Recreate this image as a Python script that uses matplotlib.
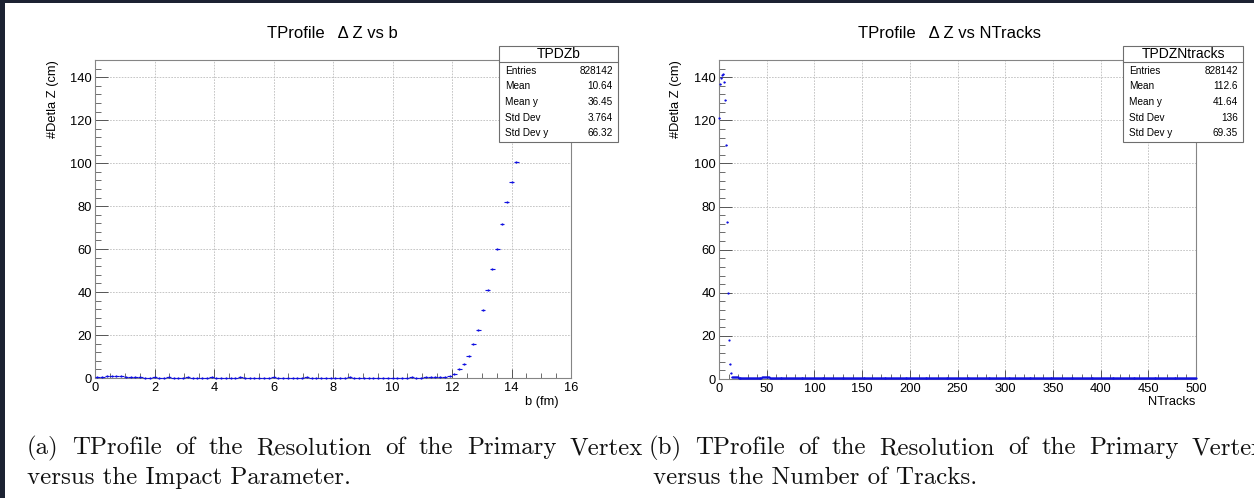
import numpy as np
import matplotlib
matplotlib.use("Agg")
import matplotlib.pyplot as plt
from matplotlib.patches import Rectangle
from matplotlib.lines import Line2D
from matplotlib.ticker import MultipleLocator

W, H, DPI = 1254, 498, 100

# ---------------------------------------------------------------- data
# TProfile  Delta Z vs b : 100 bins on [0, 16] fm (bins above 89 sit under the stats box)
b_edges = (0.0, 16.0)
b_nbins = 100
dz_vs_b = [
    0.3, 0.6, 0.9, 0.7, 1.0, 0.8, 0.5, 0.4, 0.3, 0.3,
    0.2, 0.2, 0.3, 0.2, 0.2, 0.3, 0.2, 0.2, 0.2, 0.3,
    0.2, 0.2, 0.2, 0.2, 0.3, 0.2, 0.2, 0.2, 0.2, 0.2,
    0.3, 0.2, 0.2, 0.2, 0.2, 0.2, 0.2, 0.3, 0.2, 0.2,
    0.2, 0.2, 0.2, 0.2, 0.3, 0.2, 0.2, 0.2, 0.2, 0.2,
    0.2, 0.2, 0.2, 0.3, 0.2, 0.2, 0.2, 0.2, 0.2, 0.2,
    0.2, 0.2, 0.2, 0.2, 0.2, 0.2, 0.3, 0.2, 0.2, 0.3,
    0.3, 0.3, 0.3,
    0.5, 1.1, 2.0, 4.3, 6.7, 10.4, 16.0, 22.2, 31.7, 40.8,
    50.6, 59.9, 71.6, 82.0, 91.0, 100.6, 110.2,
]

# TProfile  Delta Z vs NTracks : 500 bins on [0, 500]
nt_edges = (0.0, 500.0)
nt_nbins = 500
dz_vs_nt_head = [121.3, 136.9, 139.5, 140.9, 141.4, 138.0, 129.4,
                 108.4, 72.7, 40.0, 18.0, 7.1, 2.6, 1.0]
# flat tail read as runs of equal level (level, number of bins)
dz_vs_nt_tail_levels = [0.8, 0.5, 0.7, 0.4]
dz_vs_nt_tail_runs = [6, 25, 8, 447]

# stats boxes
stat_names = ["Entries", "Mean", "Mean y", "Std Dev", "Std Dev y"]
stats_b = ("TPDZb", ["828142", "10.64", "36.45", "3.764", "66.32"])
stats_nt = ("TPDZNtracks", ["828142", "112.6", "41.64", "136", "69.35"])

titles = ["TProfile   \u0394 Z vs b", "TProfile   \u0394 Z vs NTracks"]
xlabels = ["b (fm)", "NTracks"]
ylabel = "#Detla Z (cm)"
cap_a1 = ["(a)", "TProfile", "of", "the", "Resolution", "of", "the", "Primary", "Vertex"]
cap_a2 = "versus the Impact Parameter."
cap_b1 = ["(b)", "TProfile", "of", "the", "Resolution", "of", "the", "Primary", "Vertex"]
cap_b2 = "versus the Number of Tracks."

# ---------------------------------------------------------------- style
plt.rcParams["font.family"] = ["Liberation Sans", "DejaVu Sans"]
BLUE = "#1010e0"
GRID = "#bdbdbd"
FRAME = "#858585"


def px(x, y):
    """pixel position (from top-left) -> figure fraction"""
    return x / W, 1.0 - y / H


fig = plt.figure(figsize=(W / DPI, H / DPI), dpi=DPI)
fig.patch.set_facecolor("white")


def make_axes(x0, x1, y0, y1):
    l, t = px(x0, y0)
    r, b = px(x1, y1)
    return fig.add_axes([l, b, r - l, t - b])


def style_axes(ax, xmaj, xmin):
    ax.set_ylim(0, 148)
    ax.yaxis.set_major_locator(MultipleLocator(20))
    ax.yaxis.set_minor_locator(MultipleLocator(4))
    ax.xaxis.set_major_locator(MultipleLocator(xmaj))
    ax.xaxis.set_minor_locator(MultipleLocator(xmin))
    ax.grid(True, which="major", color=GRID, linestyle=(0, (2, 1.5)), linewidth=0.6)
    ax.set_axisbelow(True)
    for s in ax.spines.values():
        s.set_color(FRAME)
        s.set_linewidth(0.8)
    ax.tick_params(axis="y", which="major", direction="in", length=9.4, width=0.7,
                   color="#555555", pad=2.0, labelsize=9.3)
    ax.tick_params(axis="y", which="minor", direction="in", length=4.3, width=0.6,
                   color="#555555")
    ax.tick_params(axis="x", which="major", direction="in", length=6.5, width=0.7,
                   color="#555555", pad=3.0, labelsize=9.3)
    ax.tick_params(axis="x", which="minor", direction="in", length=3.3, width=0.6,
                   color="#555555")


def draw_profile(ax, values, edges, nbins):
    lo, hi = edges
    w = (hi - lo) / nbins
    y = np.asarray(values, dtype=float)
    x = lo + (np.arange(len(y)) + 0.5) * w
    ax.errorbar(x, y, xerr=w / 2, fmt="o", ms=1.6, mew=0, color=BLUE,
                ecolor=BLUE, elinewidth=0.8, capsize=0, clip_on=False, zorder=4)


def stats_box(x0, x1, y0, y1, header, values):
    l, t = px(x0, y0)
    r, b = px(x1, y1)
    fig.patches.append(Rectangle((l, b), r - l, t - b, transform=fig.transFigure,
                                 facecolor="white", edgecolor="#6e6e6e", lw=0.8, zorder=5))
    hy = 62
    fig.lines.append(Line2D([l, r], [px(0, hy)[1]] * 2, transform=fig.transFigure,
                            color="#6e6e6e", lw=0.8, zorder=6))
    fig.text(*px((x0 + x1) / 2, 54.5), header, ha="center", va="center",
             fontsize=10, zorder=7)
    for i, (name, val) in enumerate(zip(stat_names, values)):
        yy = 70.5 + i * 15.7
        fig.text(*px(x0 + 6, yy), name, ha="left", va="center", fontsize=7.2, zorder=7)
        fig.text(*px(x1 - 5, yy), val, ha="right", va="center", fontsize=7.2, zorder=7)


# ---------------------------------------------------------------- left panel
ax1 = make_axes(95, 571, 60, 378)
ax1.set_xlim(*b_edges)
style_axes(ax1, 2, 0.5)
draw_profile(ax1, dz_vs_b, b_edges, b_nbins)

# ---------------------------------------------------------------- right panel
ax2 = make_axes(719, 1196, 60, 379)
ax2.set_xlim(*nt_edges)
style_axes(ax2, 50, 10)
dz_vs_nt = list(dz_vs_nt_head)
for lev, n in zip(dz_vs_nt_tail_levels, dz_vs_nt_tail_runs):
    dz_vs_nt.extend([lev] * n)
draw_profile(ax2, dz_vs_nt, nt_edges, nt_nbins)

# titles, axis titles
fig.text(*px(332.5, 33), titles[0], ha="center", va="center", fontsize=12)
fig.text(*px(949.5, 33), titles[1], ha="center", va="center", fontsize=12)
fig.text(*px(53, 60), ylabel, rotation=90, ha="center", va="top", fontsize=9.3)
fig.text(*px(676, 60), ylabel, rotation=90, ha="center", va="top", fontsize=9.3)
fig.text(*px(559, 402), xlabels[0], ha="right", va="center", fontsize=9.3)
fig.text(*px(1195, 402), xlabels[1], ha="right", va="center", fontsize=9.3)

# stats boxes
stats_box(499, 618, 46, 142, *stats_b)
stats_box(1123, 1243, 46, 142, *stats_nt)

# ---------------------------------------------------------------- captions
CAP_SIZE = 17.9
renderer = fig.canvas.get_renderer()


def justified(words, x0, x1, ybase):
    items = [fig.text(0, 0, w, fontsize=CAP_SIZE, family="cmr10", ha="left",
                      va="baseline", color="#111111") for w in words]
    widths = [t.get_window_extent(renderer).width for t in items]
    gap = (x1 - x0 - sum(widths)) / (len(words) - 1)
    x = x0
    for t, wd in zip(items, widths):
        t.set_position(px(x, ybase))
        x += wd + gap


justified(cap_a1, 27, 643, 454)
justified(cap_b1, 649, 649 + 616, 454)
fig.text(*px(27, 484), cap_a2, fontsize=CAP_SIZE, family="cmr10", ha="left",
         va="baseline", color="#111111")
fig.text(*px(653, 484), cap_b2, fontsize=CAP_SIZE, family="cmr10", ha="left",
         va="baseline", color="#111111")

# dark page border (top and left)
fig.patches.append(Rectangle(px(0, 3), 1, 3 / H, transform=fig.transFigure,
                             facecolor="#1c2232", edgecolor="none", zorder=10))
fig.patches.append(Rectangle((0, 0), 5 / W, 1, transform=fig.transFigure,
                             facecolor="#1c2232", edgecolor="none", zorder=10))

fig.savefig("out.png", dpi=DPI, facecolor="white")
